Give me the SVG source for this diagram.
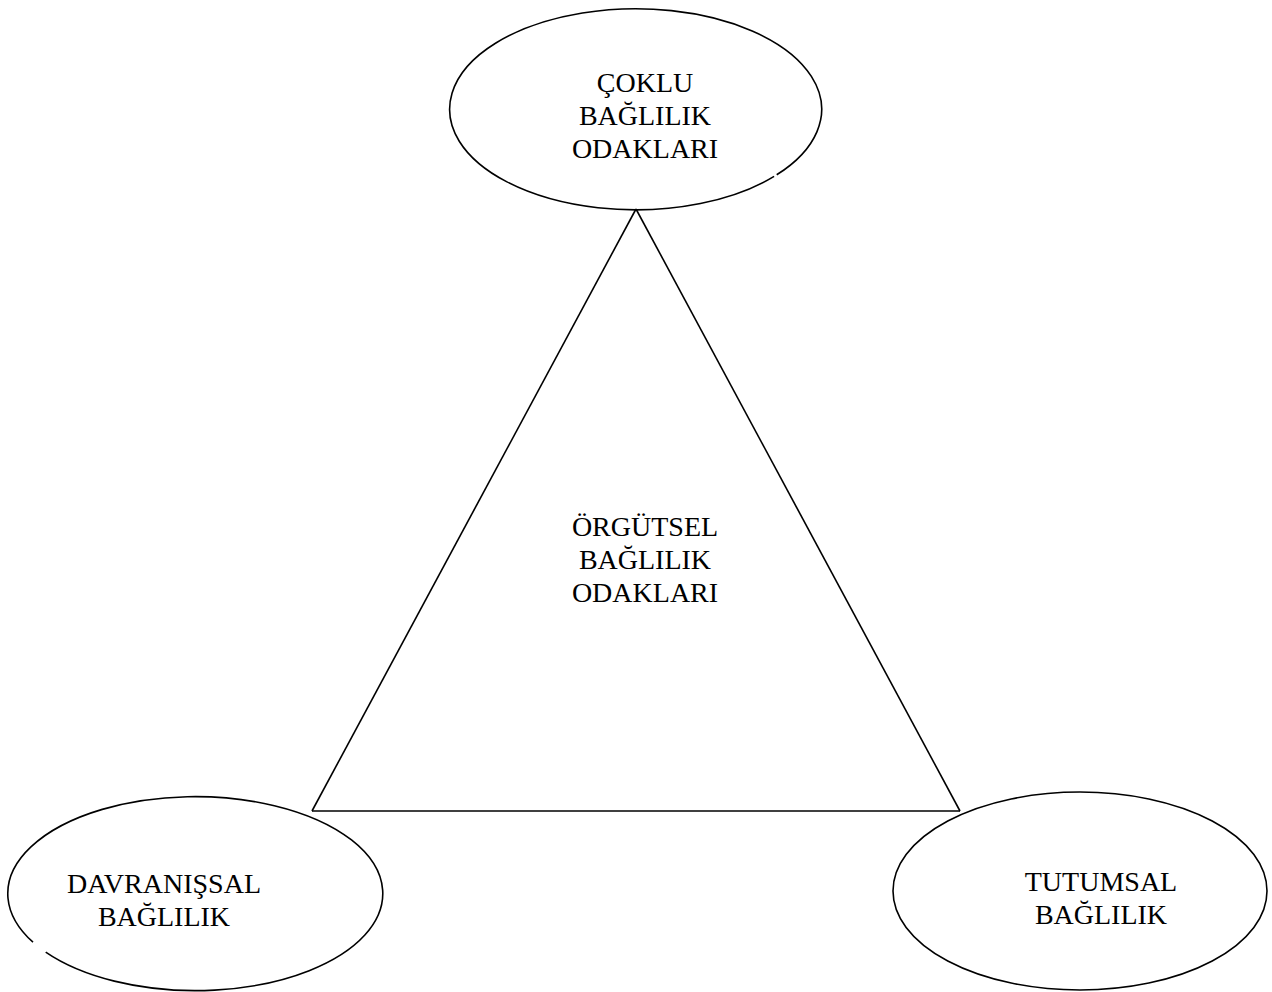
<svg xmlns="http://www.w3.org/2000/svg" width="1272" height="992" viewBox="0 0 1272 992">
<style>
.shape{fill:none;stroke:#000;stroke-width:1.6}
.edge{stroke:#000;stroke-width:1.6;fill:none}
.lbl{font-family:"Liberation Serif","Times New Roman",serif;font-size:28px;fill:#000;text-anchor:middle}
</style>
<rect width="1272" height="992" fill="#fff"/>
<g id="connectors">
<line class="edge" x1="636" y1="209" x2="312" y2="811"/>
<line class="edge" x1="636" y1="209" x2="960" y2="811"/>
<line class="edge" x1="312" y1="811" x2="960" y2="811"/>
</g>
<g id="node-center">
<text class="lbl" x="645" y="536">ÖRGÜTSEL</text>
<text class="lbl" x="645" y="569">BAĞLILIK</text>
<text class="lbl" x="645" y="602">ODAKLARI</text>
</g>
<g id="node-top">
<path class="shape" d="M 774.1 176.4 A 186 100.5 0 1 1 776.7 174.8"/>
<text class="lbl" x="645" y="92">ÇOKLU</text>
<text class="lbl" x="645" y="125">BAĞLILIK</text>
<text class="lbl" x="645" y="158">ODAKLARI</text>
</g>
<g id="node-left">
<path class="shape" d="M 33.0 942.2 A 187.5 97 0 1 1 45.7 952.1"/>
<text class="lbl" x="164" y="893">DAVRANIŞSAL</text>
<text class="lbl" x="164" y="926">BAĞLILIK</text>
</g>
<g id="node-right">
<ellipse class="shape" cx="1080" cy="891" rx="187" ry="99"/>
<text class="lbl" x="1101" y="891">TUTUMSAL</text>
<text class="lbl" x="1101" y="924">BAĞLILIK</text>
</g>
</svg>
